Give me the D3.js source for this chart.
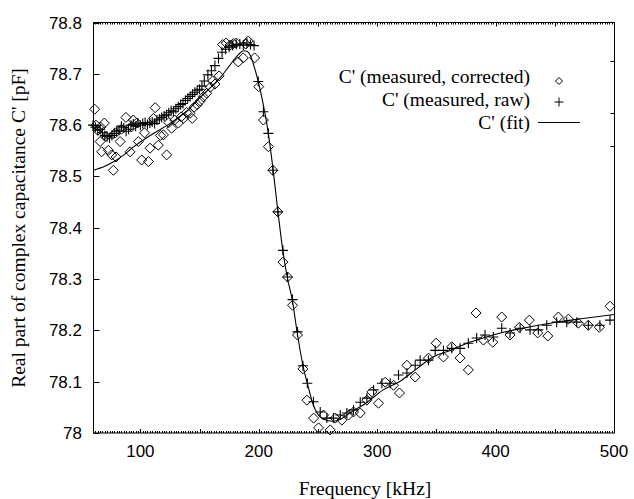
<!DOCTYPE html>
<html>
<head>
<meta charset="utf-8">
<script src="https://cdn.jsdelivr.net/npm/d3@7"></script>
<style>
  body { margin: 0; background: #fff; }
  svg { display: block; }
  .tick-label { font-family: "Liberation Sans", Arial, sans-serif; font-size: 17px; fill: #000; }
  .title { font-family: "Liberation Serif", "Times New Roman", serif; font-size: 19.5px; fill: #000; }
</style>
</head>
<body>
<svg id="chart" width="634" height="499"></svg>
<script>
// corrected measurement (diamonds)
const corrFreq = [61.4, 62.5, 64.0, 66.0, 66.5, 67.3, 69.6, 71.0, 73.0, 75.8, 77.2, 79.0, 79.5, 82.9, 84.0, 87.8,
  91.3, 92.7, 94.0, 96.9, 98.3, 101.1, 103.5, 106.8, 108.2, 111.0, 112.5, 115.2, 117.0, 119.5, 122.2, 124.0,
  126.4, 129.0, 132.1, 134.5, 136.3, 139.0, 141.9, 143.8, 145.5, 148.0, 150.6, 153.2, 156.0, 159.1, 161.0,
  163.0, 166.5, 169.5, 172.5, 175.9, 178.5, 181.0, 182.7, 186.9, 189.0, 191.1, 196.5, 200.0, 203.9, 208.1,
  211.9, 216.1, 220.4, 224.3, 228.5, 232.7, 237.3, 240.7, 246.3, 250.5, 254.7, 260.3, 264.6, 270.2, 275.8,
  280.0, 285.7, 291.3, 295.5, 301.1, 306.8, 313.8, 318.8, 325.1, 332.1, 343.3, 349.8, 356.0, 363.0, 370.0,
  377.0, 383.5, 389.7, 397.6, 405.2, 412.2, 420.1, 428.5, 435.6, 444.1, 453.0, 461.5, 469.9, 478.3, 487.6, 496.6];
const corrCap = [78.631, 78.600, 78.590, 78.568, 78.596, 78.548, 78.604, 78.578, 78.551, 78.542, 78.512, 78.585, 78.538, 78.568, 78.592, 78.615,
  78.548, 78.597, 78.610, 78.604, 78.568, 78.532, 78.585, 78.529, 78.555, 78.613, 78.634, 78.561, 78.580, 78.581, 78.542, 78.605,
  78.594, 78.610, 78.604, 78.616, 78.613, 78.625, 78.623, 78.613, 78.635, 78.640, 78.647, 78.655, 78.662, 78.674, 78.686,
  78.680, 78.696, 78.757, 78.760, 78.756, 78.759, 78.760, 78.723, 78.731, 78.758, 78.764, 78.731, 78.675, 78.610, 78.558,
  78.512, 78.431, 78.333, 78.304, 78.249, 78.191, 78.125, 78.064, 78.029, 78.010, 78.035, 78.006, 78.029, 78.025, 78.035,
  78.041, 78.039, 78.064, 78.080, 78.058, 78.099, 78.093, 78.078, 78.132, 78.109, 78.146, 78.175, 78.148, 78.168, 78.146,
  78.123, 78.234, 78.181, 78.177, 78.226, 78.191, 78.206, 78.220, 78.195, 78.189, 78.226, 78.222, 78.214, 78.210, 78.206, 78.247];

// raw measurement (crosses)
const rawFreq = [60, 62, 64, 66, 68, 70, 72, 74, 76, 78, 80, 82, 84, 86, 88, 90, 92, 94, 96, 98, 100, 102, 104, 106, 108,
  110, 112, 114, 116, 118, 120, 122, 124, 126, 128, 130, 132, 134, 136, 138, 140, 142, 144, 146, 148, 150, 152, 154,
  157, 160, 163, 166, 169, 172, 175, 178, 181, 184, 187, 190, 193, 196, 199.6, 203.9, 208.1, 211.9, 216.1, 220.4,
  224.3, 228.5, 232.7, 237.3, 241.0, 246.2, 251.9, 257.5, 263.1, 268.8, 274.4, 280.0, 285.7, 291.3, 297.0, 304.0,
  311.0, 318.0, 325.1, 332.1, 336.3, 343.3, 349.0, 356.0, 363.0, 370.0, 377.0, 384.0, 391.1, 398.1, 405.2, 412.2,
  420.7, 429.1, 436.1, 443.2, 451.6, 460.1, 468.5, 478.3, 488.1, 496.6];
const rawCap = [78.600, 78.596, 78.590, 78.592, 78.585, 78.580, 78.578, 78.575, 78.580, 78.584, 78.588, 78.590, 78.598, 78.595, 78.588, 78.592, 78.600, 78.602, 78.598, 78.604, 78.600, 78.603, 78.605, 78.601, 78.604,
  78.606, 78.603, 78.610, 78.612, 78.615, 78.618, 78.620, 78.624, 78.628, 78.626, 78.632, 78.636, 78.640, 78.642, 78.648, 78.652, 78.656, 78.660, 78.664, 78.668, 78.670, 78.676, 78.686,
  78.698, 78.706, 78.716, 78.730, 78.742, 78.748, 78.752, 78.755, 78.757, 78.758, 78.756, 78.760, 78.757, 78.755, 78.685, 78.626, 78.584, 78.512, 78.431, 78.356,
  78.304, 78.260, 78.197, 78.131, 78.097, 78.061, 78.041, 78.029, 78.029, 78.035, 78.039, 78.045, 78.060, 78.068, 78.084, 78.097,
  78.097, 78.113, 78.117, 78.132, 78.142, 78.142, 78.161, 78.161, 78.165, 78.165, 78.175, 78.185, 78.191, 78.187, 78.204, 78.195,
  78.204, 78.201, 78.201, 78.210, 78.216, 78.216, 78.216, 78.210, 78.210, 78.220];

// fitted curve
const fitFreq = [60, 70, 77, 85, 94, 105, 115, 123, 131, 140, 151, 160, 168, 175, 180, 184, 187, 190, 193, 196, 199,
  203, 208, 212, 216, 220.6, 224, 228.3, 232.5, 237.6, 241, 246, 250, 255, 262, 270, 277, 291.6, 305, 319.4,
  333.8, 347.3, 361.6, 376, 389.5, 403.9, 418.2, 431.7, 446, 460.4, 474, 500];
const fitCap = [78.512, 78.520, 78.528, 78.540, 78.557, 78.575, 78.589, 78.600, 78.613, 78.629, 78.655, 78.675, 78.694, 78.715, 78.730, 78.740, 78.745, 78.744, 78.735, 78.715, 78.690,
  78.649, 78.585, 78.515, 78.435, 78.351, 78.304, 78.259, 78.195, 78.128, 78.097, 78.055, 78.036, 78.027, 78.023, 78.028, 78.039, 78.060, 78.084, 78.101,
  78.126, 78.148, 78.161, 78.175, 78.185, 78.195, 78.202, 78.208, 78.214, 78.219, 78.223, 78.231];

const xTicks = [100, 200, 300, 400, 500];
const yTicks = [78, 78.1, 78.2, 78.3, 78.4, 78.5, 78.6, 78.7, 78.8];
const rightTicks = [78.724, 78.623, 78.56];
const legendLabels = ["C' (measured, corrected)", "C' (measured, raw)", "C' (fit)"];

const svg = d3.select("#chart");
const plotLeft = 93, plotRight = 614, plotTop = 22.5, plotBottom = 433;

const x = d3.scaleLinear().domain([60, 500]).range([plotLeft, plotRight]);
const y = d3.scaleLinear().domain([78, 78.8]).range([plotBottom, plotTop]);

// frame
svg.append("rect")
  .attr("x", plotLeft + 0.5).attr("y", plotTop)
  .attr("width", plotRight - plotLeft).attr("height", plotBottom - plotTop)
  .attr("fill", "none").attr("stroke", "#000").attr("stroke-width", 1);

// minor ticks every 2 kHz, taller every 50 kHz (bottom and top)
const minor = d3.range(62, 500, 2);
const g = svg.append("g").attr("stroke", "#000").attr("stroke-width", 1);
minor.forEach(f => {
  const px = Math.round(x(f)) + 0.5;
  const len = f % 50 === 0 ? 4 : 2;
  g.append("line").attr("x1", px).attr("x2", px).attr("y1", plotBottom).attr("y2", plotBottom - len);
  g.append("line").attr("x1", px).attr("x2", px).attr("y1", plotTop).attr("y2", plotTop + len);
});

// left ticks
yTicks.forEach(v => {
  const py = Math.round(y(v)) + 0.5;
  g.append("line").attr("x1", plotLeft + 0.5).attr("x2", plotLeft + 6.5).attr("y1", py).attr("y2", py);
});
rightTicks.forEach(v => {
  const py = Math.round(y(v)) + 0.5;
  g.append("line").attr("x1", plotRight + 0.5).attr("x2", plotRight - 3.5).attr("y1", py).attr("y2", py);
});

// tick labels
svg.append("g").selectAll("text").data(yTicks).join("text")
  .attr("class", "tick-label")
  .attr("x", 82).attr("y", d => y(d) + 6)
  .attr("text-anchor", "end")
  .text(d => d3.format("")(+d.toFixed(1)));

svg.append("g").selectAll("text").data(xTicks).join("text")
  .attr("class", "tick-label")
  .attr("x", d => x(d)).attr("y", 457)
  .attr("text-anchor", "middle")
  .text(d => d);

// axis titles
svg.append("text").attr("class", "title")
  .attr("x", 365).attr("y", 495)
  .attr("text-anchor", "middle")
  .text("Frequency [kHz]");

svg.append("text").attr("class", "title")
  .attr("transform", "translate(25,228) rotate(-90)")
  .attr("text-anchor", "middle")
  .text("Real part of complex capacitance C' [pF]");

// fit line
const fitData = fitFreq.map((f, i) => [f, fitCap[i]]);
svg.append("path")
  .datum(fitData)
  .attr("fill", "none").attr("stroke", "#000").attr("stroke-width", 1.1)
  .attr("d", d3.line().x(d => x(d[0])).y(d => y(d[1])).curve(d3.curveMonotoneX));

// diamonds
const diamond = (cx, cy, r) => `M${cx},${cy - r}L${cx + r},${cy}L${cx},${cy + r}L${cx - r},${cy}Z`;
const corrData = corrFreq.map((f, i) => [f, corrCap[i]]);
svg.append("g").selectAll("path").data(corrData).join("path")
  .attr("d", d => diamond(x(d[0]), y(d[1]), 5))
  .attr("fill", "none").attr("stroke", "#000").attr("stroke-width", 1);

// crosses
const cross = (cx, cy, r) => `M${cx - r},${cy}L${cx + r},${cy}M${cx},${cy - r}L${cx},${cy + r}`;
const rawData = rawFreq.map((f, i) => [f, rawCap[i]]);
svg.append("g").selectAll("path").data(rawData).join("path")
  .attr("d", d => cross(x(d[0]), y(d[1]), 5))
  .attr("fill", "none").attr("stroke", "#000").attr("stroke-width", 1.1);

// legend
const legY = [83, 106, 129];
svg.append("g").selectAll("text").data(legendLabels).join("text")
  .attr("class", "title")
  .attr("x", 530).attr("y", (d, i) => legY[i])
  .attr("text-anchor", "end")
  .text(d => d);
svg.append("path").attr("d", diamond(559, 81, 3.5)).attr("fill", "none").attr("stroke", "#000");
svg.append("path").attr("d", cross(559, 102, 4.5)).attr("fill", "none").attr("stroke", "#000");
svg.append("line").attr("x1", 538).attr("x2", 580).attr("y1", 122.5).attr("y2", 122.5).attr("stroke", "#000");
</script>
</body>
</html>
